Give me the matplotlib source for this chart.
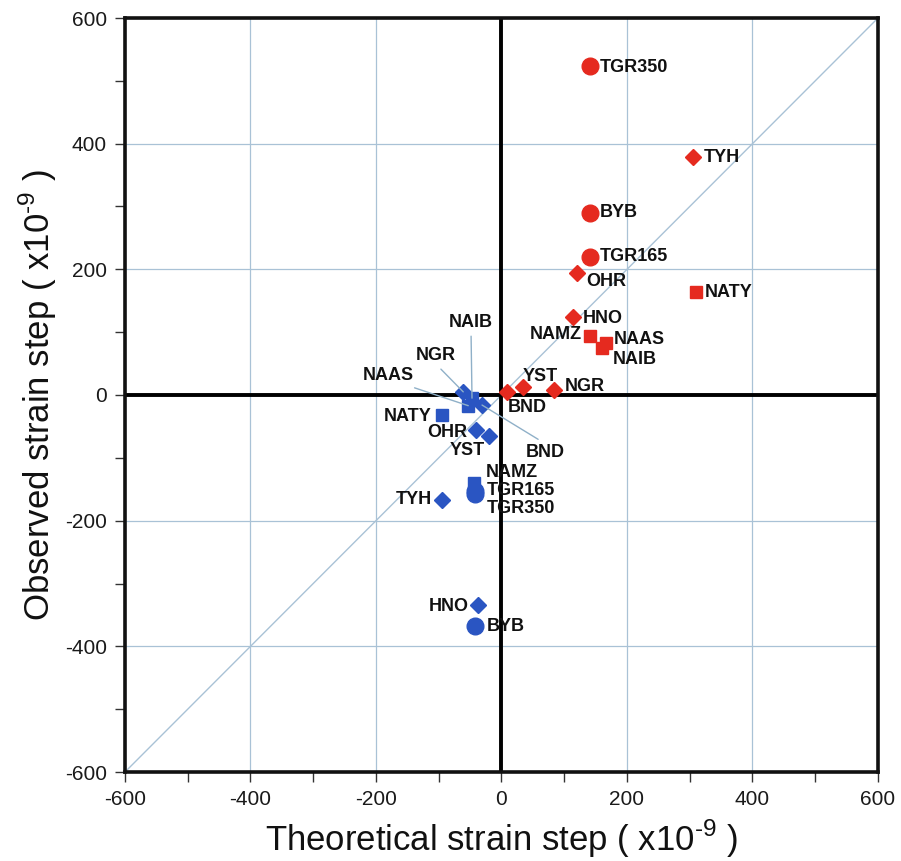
import matplotlib
matplotlib.use("Agg")
import matplotlib.pyplot as plt

plt.rcParams['font.family'] = ['Liberation Sans', 'DejaVu Sans']
plt.rcParams['mathtext.fontset'] = 'custom'
plt.rcParams['mathtext.rm'] = 'Liberation Sans'
plt.rcParams['axes.unicode_minus'] = False

# ---- data (x10^-9) ----
red_names = ["TGR350", "TYH", "BYB", "TGR165", "OHR", "NATY", "HNO",
             "NAMZ", "NAAS", "NAIB", "YST", "NGR", "BND"]
red_x = [141, 305, 141, 141, 120, 310, 114, 141, 167, 160, 34, 84, 9]
red_y = [523, 378, 290, 220, 194, 164, 124, 94, 83, 75, 13, 8, 5]
red_kind = ["circle", "diamond", "circle", "circle", "diamond", "square", "diamond",
            "square", "square", "square", "diamond", "diamond", "diamond"]

blue_names = ["NGR", "NAAS", "NAIB", "BND", "NATY", "OHR", "YST",
              "NAMZ", "TGR165", "TGR350", "TYH", "HNO", "BYB"]
blue_x = [-61, -53, -47, -31, -95, -40, -20, -44, -43, -42, -95, -37, -42]
blue_y = [5, -17, -5, -16, -32, -56, -65, -140, -152, -157, -167, -335, -367]
blue_kind = ["diamond", "square", "square", "diamond", "square", "diamond", "diamond",
             "square", "circle", "circle", "diamond", "diamond", "circle"]

ticks = [-600, -400, -200, 0, 200, 400, 600]

# ---- layout / style ----
marker_map = {"circle": ("o", 12), "diamond": ("D", 8.5), "square": ("s", 8)}
RED = "#e52a1f"
BLUE = "#2a55c2"
GRID = "#a9c2d6"

# label offsets in pixels (dx, dy, ha)
red_off = {
    "TGR350": (10, -1, "left"), "TYH": (11, 0, "left"), "BYB": (10, 0, "left"),
    "TGR165": (10, 0, "left"), "OHR": (9, -8, "left"), "NATY": (9, -1, "left"),
    "HNO": (10, -1, "left"), "NAMZ": (-8, 1, "right"), "NAAS": (7, 3, "left"),
    "NAIB": (11, -12, "left"), "YST": (0, 10, "left"), "NGR": (11, 3, "left"),
    "BND": (1, -16, "left"),
}
blue_off = {
    "NATY": (-10, -1, "right"), "OHR": (-9, -2, "right"), "YST": (-4, -15, "right"),
    "NAMZ": (12, 10, "left"), "TGR165": (12, 0, "left"), "TGR350": (12, -15, "left"),
    "TYH": (-10, 0, "right"), "HNO": (-10, -1, "right"), "BYB": (12, -1, "left"),
}
# leader-line labels: (dx, dy, relpos)
blue_lead = {
    "NAIB": (-1, 76, (0.5, 0.0)),
    "NGR": (-27, 36, (0.5, 0.0)),
    "NAAS": (-80, 30, (0.8, 0.0)),
    "BND": (63, -47, (0.5, 1.0)),
}

fig = plt.figure(figsize=(9.01, 8.61), dpi=100)
ax = fig.add_axes([125 / 901, 89 / 861, 753 / 901, 754 / 861])
ax.set_xlim(-600, 600)
ax.set_ylim(-600, 600)

ax.set_xticks(ticks)
ax.set_yticks(ticks)
ax.set_xticks(range(-500, 600, 200), minor=True)
ax.set_yticks(range(-500, 600, 200), minor=True)
ax.grid(True, which="major", color=GRID, lw=0.9, zorder=0)
ax.tick_params(which="both", direction="out", length=7, width=1.0, color="#333333",
               labelsize=15, labelcolor="#1a1a1a", pad=6)
for s in ax.spines.values():
    s.set_linewidth(2.6)
    s.set_color("#111111")

ax.plot([-600, 600], [-600, 600], color=GRID, lw=1.0, zorder=1)
ax.axhline(0, color="#000000", lw=2.8, zorder=2)
ax.axvline(0, color="#000000", lw=2.8, zorder=2)

def draw(names, xs, ys, kinds, color):
    for n, x, y, k in zip(names, xs, ys, kinds):
        m, ms = marker_map[k]
        ax.plot([x], [y], marker=m, ms=ms, color=color, mec=color, ls="none", zorder=4)

draw(red_names, red_x, red_y, red_kind, RED)
draw(blue_names, blue_x, blue_y, blue_kind, BLUE)

lab_kw = dict(fontsize=13, fontweight="bold", color="#111111", va="center", zorder=5)
for n, x, y in zip(red_names, red_x, red_y):
    dx, dy, ha = red_off[n]
    ax.annotate(n, (x, y), xytext=(dx, dy), textcoords="offset pixels", ha=ha, **lab_kw)
for n, x, y in zip(blue_names, blue_x, blue_y):
    if n in blue_off:
        dx, dy, ha = blue_off[n]
        ax.annotate(n, (x, y), xytext=(dx, dy), textcoords="offset pixels", ha=ha, **lab_kw)
    else:
        dx, dy, rp = blue_lead[n]
        ax.annotate(n, (x, y), xytext=(dx, dy), textcoords="offset pixels", ha="center",
                    arrowprops=dict(arrowstyle="-", color="#8fb0c8", lw=1.0,
                                    relpos=rp, shrinkA=2, shrinkB=0),
                    **lab_kw)

ax.set_xlabel(r"Theoretical strain step ( x10$^{\text{-9}}$ )", fontsize=25,
              color="#111111", labelpad=6)
ax.set_ylabel(r"Observed strain step ( x10$^{\text{-9}}$ )", fontsize=25,
              color="#111111", labelpad=4)

fig.savefig("out.png", dpi=100)
